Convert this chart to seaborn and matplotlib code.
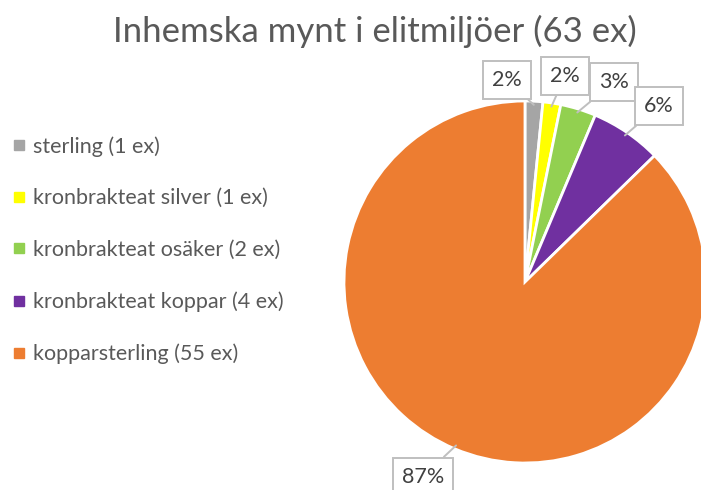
import matplotlib
matplotlib.use("Agg")
import matplotlib.pyplot as plt
import seaborn as sns
import numpy as np
from matplotlib.lines import Line2D

categories = ["sterling (1 ex)", "kronbrakteat silver (1 ex)", "kronbrakteat osäker (2 ex)",
              "kronbrakteat koppar (4 ex)", "kopparsterling (55 ex)"]
values = [1, 1, 2, 4, 55]
colors = ["#A5A5A5", "#FFFF00", "#92D050", "#7030A0", "#ED7D31"]
title = "Inhemska mynt i elitmiljöer (63 ex)"
label_pos = [(-0.099, 1.116), (0.221, 1.138), (0.492, 1.105), (0.740, 0.972), (-0.564, -1.075)]

sns.set_theme(style="white")
plt.rcParams["font.family"] = ["Lato", "DejaVu Sans"]

fig = plt.figure(figsize=(7.01, 4.9), dpi=100)
ax = fig.add_axes([0.4907, 0.0551, 0.5164, 0.7388])
wedges, _ = ax.pie(values, colors=colors, startangle=90, counterclock=False,
                   wedgeprops=dict(edgecolor="white", linewidth=2), radius=1)
ax.set_xlim(-1, 1)
ax.set_ylim(-1, 1)
ax.set_aspect("equal")
ax.axis("off")

total = sum(values)
for w, v, (lx, ly) in zip(wedges, values, label_pos):
    ang = np.deg2rad((w.theta1 + w.theta2) / 2)
    px, py = np.cos(ang) * 0.98, np.sin(ang) * 0.98
    ax.annotate(f"{round(100 * v / total)}%", xy=(px, py), xytext=(lx, ly),
                ha="center", va="center", fontsize=15.5, color="#404040",
                bbox=dict(boxstyle="square,pad=0.42", fc="white", ec="#BFBFBF", lw=1.4),
                arrowprops=dict(arrowstyle="-", color="#BFBFBF", lw=1.4, shrinkA=0, shrinkB=0),
                annotation_clip=False)

fig.text(0.535, 0.935, title, ha="center", va="center", fontsize=25, color="#595959")

handles = [Line2D([0], [0], marker="s", linestyle="none", markersize=6.5,
                  markerfacecolor=c, markeredgecolor=c) for c in colors]
fig.legend(handles, categories, loc="upper left", bbox_to_anchor=(0.005, 0.74),
           frameon=False, fontsize=15.5, labelcolor="#595959", handlelength=0.6,
           handletextpad=0.35, labelspacing=1.47, borderaxespad=0)

fig.savefig("out.png", dpi=100)
